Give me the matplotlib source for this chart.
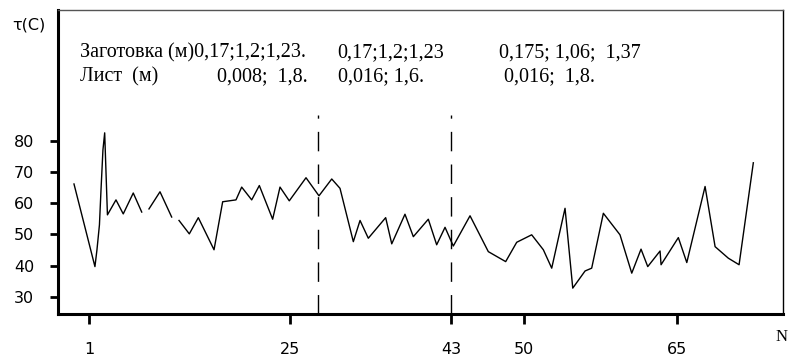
import matplotlib
matplotlib.use('Agg')
import matplotlib.pyplot as plt
import numpy as np

# Measured sample positions (x scale: tick "1" -> 1, tick "65" -> 65) and temperatures
POS = [-0.63, 1.65, 1.87, 2.14, 2.31, 2.52, 2.71, 3.01, 3.94, 4.73, 5.82, 6.74, np.nan,
       7.53, 8.73, 10.0, np.nan,
       10.80, 11.92, 12.90, 14.61, 15.55, 17.00, 17.62, 18.71, 19.54, 20.99, 21.79, 22.80,
       24.62, 26.03, 27.42, 28.32, 29.77, 30.50, 31.40, 33.29, 33.95, 35.39, 36.30, 37.93,
       38.84, 39.75, 40.65, 42.47, 44.46, 46.35, 47.55, 49.18, 50.45, 51.36, 52.81, 53.65,
       54.99, 55.71, 56.98, 58.79, 60.07, 61.08, 61.81, 63.15, 63.26, 65.14, 66.06, 68.05,
       69.14, 70.58, 71.75, 73.30]
TEMP = [66.2, 39.7, 45.1, 53.1, 64.3, 77.1, 82.6, 56.3, 61.1, 56.6, 63.3, 57.2, np.nan,
        58.2, 63.7, 55.6, np.nan,
        54.5, 50.2, 55.4, 45.1, 60.5, 61.1, 65.2, 61.1, 65.7, 54.9, 65.2, 60.8,
        68.2, 62.4, 67.8, 64.8, 47.7, 54.5, 48.8, 55.4, 47.0, 56.5, 49.3, 54.9,
        46.7, 52.3, 46.3, 56.0, 44.5, 41.3, 47.5, 49.9, 45.1, 39.2, 58.4, 32.8,
        38.3, 39.2, 56.8, 49.9, 37.6, 45.3, 39.7, 44.7, 40.3, 49.0, 41.0, 65.4,
        46.1, 42.4, 40.3, 73.0]

XTICK_POS = [1, 22.88, 40.45, 48.35, 65]
XTICK_LABELS = ['1', '25', '43', '50', '65']
YTICKS = [30, 40, 50, 60, 70, 80]
SPLITS = [25.92, 40.45]

LINE1 = ['Заготовка (м)0,17;1,2;1,23.', '0,17;1,2;1,23', '0,175; 1,06;  1,37']
LINE2 = ['Лист  (м)', '0,008;  1,8.', '0,016; 1,6.', '0,016;  1,8.']

W, H = 789, 360
fig = plt.figure(figsize=(W / 100, H / 100), dpi=100)
ax = fig.add_axes([58 / W, 1 - 314 / H, (783 - 58) / W, (314 - 10) / H])

ax.plot(POS, TEMP, color='black', lw=1.0)
for s in SPLITS:
    ax.plot([s, s], [24.5, 88.3], color='black', lw=1.0, linestyle=(0, (14, 9.5)))

ax.set_xlim(-2.37, 76.53)
ax.set_ylim(24.5, 122)
ax.set_xticks(XTICK_POS)
ax.set_xticklabels(XTICK_LABELS)
ax.set_yticks(YTICKS)

for side in ['left', 'bottom']:
    ax.spines[side].set_linewidth(2.2)
ax.spines['top'].set_linewidth(1.0)
ax.spines['top'].set_color('#555555')
ax.spines['right'].set_linewidth(1.0)

ax.tick_params(axis='y', length=6, width=2, pad=11, labelsize=11.5)
ax.tick_params(axis='x', length=7, width=2, pad=13, labelsize=11.5)

serif = dict(family='Liberation Serif', fontsize=14.5, va='baseline')
for x, t in zip([80, 337, 499], LINE1):
    fig.text(x / W, 1 - 57 / H, t, **serif)
for x, t in zip([80, 217, 338, 504], LINE2):
    fig.text(x / W, 1 - 81 / H, t, **serif)

fig.text(12 / W, 1 - 25 / H, 'τ(C)', fontsize=11.5, va='center', ha='left')
fig.text(776 / W, 1 - 337 / H, 'N', family='Liberation Serif', fontsize=12,
         va='center', ha='left')

fig.savefig('out.png', dpi=100)
plt.close(fig)
